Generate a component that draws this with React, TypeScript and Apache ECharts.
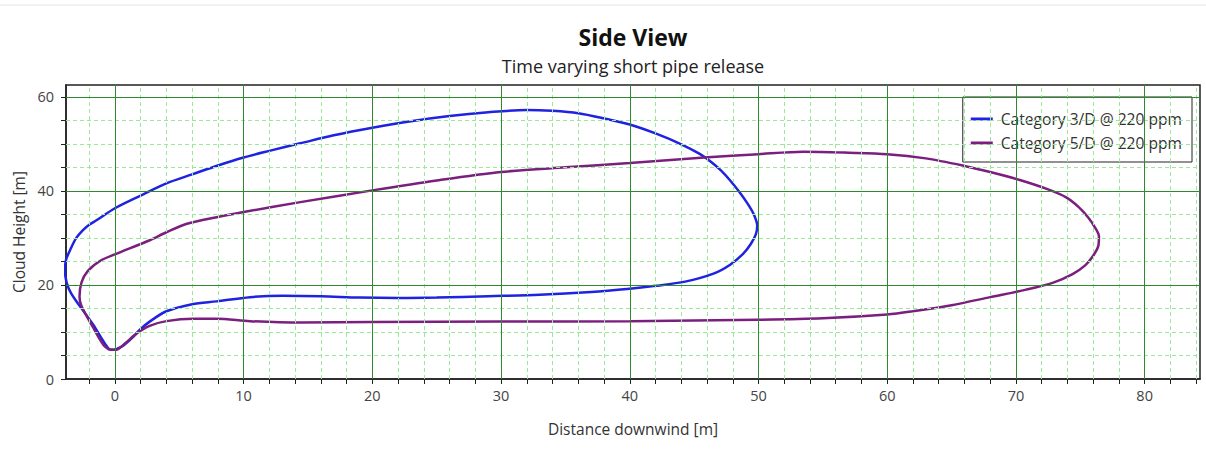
import React, { useEffect, useRef } from "react";
import * as echarts from "echarts";

const seriesNames = ["Category 3/D @ 220 ppm", "Category 5/D @ 220 ppm"];

const cat3X = [0.0, -0.4, -0.8, -1.7, -2.7, -3.4, -3.75, -3.88, -3.8, -3.4, -3.0, -2.5, -2.0, -1.4, 0, 2, 4, 6, 8, 10, 12, 14.4, 17, 20, 23, 26, 29, 32, 34, 36, 38, 40, 42, 44.0, 45.4, 46.3, 47.1, 47.8, 48.5, 49.1, 49.6, 49.9, 49.8, 49.4, 48.8, 47.8, 46.5, 44.3, 42, 40, 37, 33, 29, 25, 22, 19, 16, 13, 10.5, 7.9, 6, 4, 2.7, 1.9, 1.4, 0.6, 0.0];
const cat3Y = [6.2, 6.3, 7.6, 11.6, 15.4, 18.2, 20.5, 23.0, 25.3, 27.9, 30.0, 31.6, 32.8, 33.8, 36.3, 39.0, 41.6, 43.5, 45.4, 47.1, 48.5, 50.1, 51.8, 53.4, 54.8, 55.9, 56.7, 57.2, 57.0, 56.5, 55.4, 54.1, 52.2, 49.9, 47.9, 46.2, 44.3, 42.2, 39.8, 37.5, 35.2, 32.6, 30.8, 28.7, 26.6, 24.3, 22.4, 20.7, 19.8, 19.2, 18.5, 17.9, 17.6, 17.3, 17.2, 17.3, 17.6, 17.7, 17.4, 16.5, 15.9, 14.4, 12.2, 10.4, 8.9, 7.0, 6.2];

const cat5X = [-0.4, -0.9, -1.7, -2.6, -2.75, -2.6, -2.1, -1.1, 0, 2.7, 4, 5.6, 7.9, 10, 14.4, 20, 25, 30, 35, 40, 45.8, 50, 53.5, 57, 60, 63, 66, 68, 70.3, 72.5, 73.9, 74.9, 75.6, 76.1, 76.45, 76.4, 76.0, 75.4, 74.4, 72.9, 70.8, 68, 65, 62, 60, 55, 50, 40, 30, 20, 14.4, 10.5, 7.9, 6.1, 4, 2.7, 1.7, 0.8, 0.1, -0.4];
const cat5Y = [6.2, 7.3, 11.0, 15.5, 17.5, 20.5, 23.0, 25.2, 26.5, 29.5, 31.2, 33.0, 34.4, 35.5, 37.6, 40.1, 42.2, 44.0, 45.0, 45.9, 47.1, 47.8, 48.3, 48.1, 47.8, 46.9, 45.3, 44.0, 42.3, 40.3, 38.6, 36.5, 34.4, 32.4, 30.3, 28.3, 26.2, 24.2, 22.3, 20.5, 19.0, 17.4, 15.7, 14.4, 13.7, 12.9, 12.6, 12.3, 12.2, 12.1, 12.0, 12.3, 12.8, 12.8, 12.3, 11.3, 9.7, 7.6, 6.2, 6.2];

const xMajorTicks = [0, 10, 20, 30, 40, 50, 60, 70, 80];
const xMinorTicks = [-2, 2, 4, 6, 8, 12, 14, 16, 18, 22, 24, 26, 28, 32, 34, 36, 38, 42, 44, 46, 48, 52, 54, 56, 58, 62, 64, 66, 68, 72, 74, 76, 78, 82, 84];
const yMajorTicks = [0, 20, 40, 60];
const yMinorTicks = [5, 10, 15, 25, 30, 35, 45, 50, 55];

const xMin = -3.8;
const xMax = 84.3;
const yMin = 0;
const yMax = 62.5;

const FONT = "'Open Sans', 'Noto Sans', sans-serif";

export default function App() {
  const ref = useRef<HTMLDivElement>(null);
  useEffect(() => {
    if (!ref.current) return;
    const chart = echarts.init(ref.current, undefined, { renderer: "svg" });
    const zip = (xs: number[], ys: number[]) => xs.map((x, i) => [x, ys[i]]);
    const majorLine = { color: "#2f8a2f", width: 1, type: "solid" as const };
    const minorLine = { color: "#9be89b", width: 1, type: [4, 3] as any };
    const gridMarks: any[] = [];
    xMinorTicks.forEach((v) => gridMarks.push({ xAxis: v, lineStyle: minorLine }));
    yMinorTicks.forEach((v) => gridMarks.push({ yAxis: v, lineStyle: minorLine }));
    xMajorTicks.forEach((v) => gridMarks.push({ xAxis: v, lineStyle: majorLine }));
    yMajorTicks.filter((v) => v > 0).forEach((v) => gridMarks.push({ yAxis: v, lineStyle: majorLine }));
    const allXTicks = [...xMinorTicks, ...xMajorTicks].sort((a, b) => a - b);
    const allYTicks = [...yMinorTicks, ...yMajorTicks].sort((a, b) => a - b);

    chart.setOption({
      animation: false,
      backgroundColor: "#ffffff",
      graphic: [
        {
          type: "line",
          shape: { x1: 0, y1: 5, x2: 1206, y2: 5 },
          style: { stroke: "#e6e6e6", lineWidth: 1 },
          silent: true,
        },
        {
          type: "text",
          x: 633,
          y: 37,
          style: {
            text: "Side View",
            fontFamily: FONT,
            fontSize: 23,
            fontWeight: "bold",
            fill: "#111",
            textAlign: "center",
            textVerticalAlign: "middle",
          },
          silent: true,
        },
        {
          type: "text",
          x: 633,
          y: 66,
          style: {
            text: "Time varying short pipe release",
            fontFamily: FONT,
            fontSize: 18,
            fill: "#222",
            textAlign: "center",
            textVerticalAlign: "middle",
          },
          silent: true,
        },
      ],
      legend: {
        data: seriesNames,
        orient: "vertical",
        right: 14,
        top: 97,
        backgroundColor: "#ffffff",
        borderColor: "#222",
        borderWidth: 1,
        borderRadius: 0,
        padding: [12, 10, 9, 8],
        itemGap: 4,
        itemWidth: 22,
        itemHeight: 3,
        icon: "rect",
        textStyle: { fontFamily: FONT, fontSize: 15.6, color: "#333", lineHeight: 20, padding: [0, 0, 0, 3] },
      },
      grid: {
        left: 66,
        right: 6,
        top: 85,
        bottom: 76,
        show: true,
        borderColor: "#222",
        borderWidth: 1.5,
        backgroundColor: "transparent",
      },
      xAxis: {
        type: "value",
        min: xMin,
        max: xMax,
        name: "Distance downwind [m]",
        nameLocation: "middle",
        nameGap: 42,
        nameTextStyle: { fontFamily: FONT, fontSize: 15.5, color: "#333" },
        axisLine: { show: true, onZero: false, lineStyle: { color: "#222", width: 1.5 } },
        axisTick: { show: true, inside: false, length: 5, customValues: allXTicks, lineStyle: { color: "#222" } },
        axisLabel: { customValues: xMajorTicks, fontFamily: FONT, fontSize: 14.5, color: "#444", margin: 9 },
        splitLine: { show: false },
      },
      yAxis: {
        type: "value",
        min: yMin,
        max: yMax,
        name: "Cloud Height [m]",
        nameLocation: "middle",
        nameGap: 33,
        nameTextStyle: { fontFamily: FONT, fontSize: 15.5, color: "#333" },
        axisLine: { show: true, onZero: false, lineStyle: { color: "#222", width: 1.5 } },
        axisTick: { show: true, inside: false, length: 5, customValues: allYTicks, lineStyle: { color: "#222" } },
        axisLabel: { customValues: yMajorTicks, fontFamily: FONT, fontSize: 14.5, color: "#444", margin: 12 },
        splitLine: { show: false },
      },
      series: [
        {
          name: "grid",
          type: "line",
          data: [[-100, -100]],
          showSymbol: false,
          lineStyle: { opacity: 0 },
          silent: true,
          z: 1,
          markLine: {
            silent: true,
            symbol: "none",
            label: { show: false },
            animation: false,
            data: gridMarks,
          },
        },
        {
          name: seriesNames[0],
          type: "line",
          data: zip(cat3X, cat3Y),
          showSymbol: false,
          smooth: 0.3,
          color: "#1f22e0",
          lineStyle: { color: "#1f22e0", width: 2.5 },
          z: 3,
        },
        {
          name: seriesNames[1],
          type: "line",
          data: zip(cat5X, cat5Y),
          showSymbol: false,
          smooth: 0.3,
          color: "#7b1f7f",
          lineStyle: { color: "#7b1f7f", width: 2.5 },
          z: 3,
        },
      ],
    });
    return () => chart.dispose();
  }, []);
  return (
    <div
      ref={ref}
      style={{ position: "fixed", left: 0, top: 0, width: 1206, height: 455 }}
    />
  );
}
